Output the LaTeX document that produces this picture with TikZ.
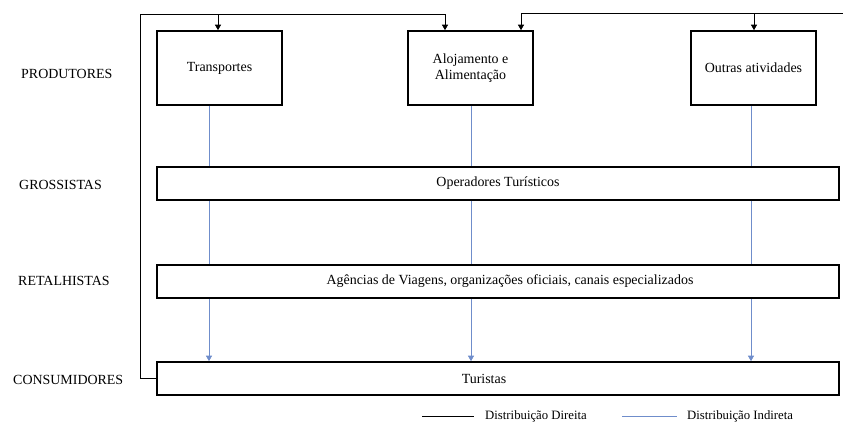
\documentclass[tikz,border=0pt]{standalone}
\usepackage{fontspec}
\setmainfont{Liberation Serif}
\usetikzlibrary{arrows.meta}
\definecolor{indblue}{HTML}{6F8DCB}
\tikzset{
  basefont/.style={font=\fontsize{14}{16.5}\selectfont},
  prodbox/.style={draw=black, line width=1.6bp, minimum width=125bp, minimum height=74bp, align=center, basefont},
  levelbox/.style={draw=black, line width=1.6bp, minimum width=682bp, minimum height=33bp},
  levellabel/.style={anchor=west, inner sep=0pt, basefont},
  direct/.style={draw=black, line width=0.8bp},
  indirect/.style={draw=indblue, line width=0.8bp},
  tip/.style={-{Triangle[width=6bp,length=5.5bp]}},
  legendtext/.style={anchor=west, inner sep=0pt, font=\fontsize{12.8}{15}\selectfont}
}
\begin{document}
\begin{tikzpicture}[x=1bp,y=-1bp]
\useasboundingbox (0,0) rectangle (843,423);

% producers
\node[prodbox] (trans) at (219.5,68) {Transportes};
\node[prodbox] (aloj) at (470.5,68) {Alojamento e\\Alimentação};
\node[prodbox] (outras) at (753.5,68) {Outras atividades};

% distribution levels
\node[levelbox] (oper) at (498,183.5) {};
\node[levelbox] (retal) at (498,281.5) {};
\node[levelbox] (cons) at (498,378.5) {};
\node[basefont] (opertxt) at (498,183.5) {Operadores Turísticos};
\node[basefont] (retaltxt) at (510,281.5) {Agências de Viagens, organizações oficiais, canais especializados};
\node[basefont] (constxt) at (484,378.5) {Turistas};

% level labels
\node[levellabel] (lprod) at (21,74) {PRODUTORES};
\node[levellabel] (lgros) at (19,185) {GROSSISTAS};
\node[levellabel] (lretal) at (18,281) {RETALHISTAS};
\node[levellabel] (lcons) at (13,380) {CONSUMIDORES};

% column positions
\coordinate (c1) at (209,0);
\coordinate (c2) at (471,0);
\coordinate (c3) at (751,0);
\coordinate (topl) at (140,14);
\coordinate (topr) at (843,13);
\coordinate (a1) at (218,0);
\coordinate (a2) at (445,0);
\coordinate (a3) at (521,0);
\coordinate (a4) at (754,0);

% direct distribution
\draw[direct] (cons.west) -| (topl) -- (topl -| a2) coordinate (k2);
\draw[direct,tip] (k2) -- (aloj.north -| a2);
\draw[direct,tip] (topl -| a1) -- (trans.north -| a1);
\draw[direct] (topr) -- (topr -| a3) coordinate (k3);
\draw[direct,tip] (k3) -- (aloj.north -| a3);
\draw[direct,tip] (topr -| a4) -- (outras.north -| a4);

% indirect distribution
\foreach \c/\p in {c1/trans, c2/aloj, c3/outras}{
  \draw[indirect] (\p.south -| \c) -- (oper.north -| \c);
  \draw[indirect] (oper.south -| \c) -- (retal.north -| \c);
  \draw[indirect,tip] (retal.south -| \c) -- (cons.north -| \c);
}

% legend
\coordinate (l1) at (422,416);
\coordinate (l2) at (474,416);
\coordinate (l3) at (622,416);
\coordinate (l4) at (677,416);
\draw[direct] (l1) -- (l2);
\node[legendtext] (ldir) at (485,416) {Distribuição Direita};
\draw[indirect] (l3) -- (l4);
\node[legendtext] (lind) at (687,416) {Distribuição Indireta};
\end{tikzpicture}
\end{document}
